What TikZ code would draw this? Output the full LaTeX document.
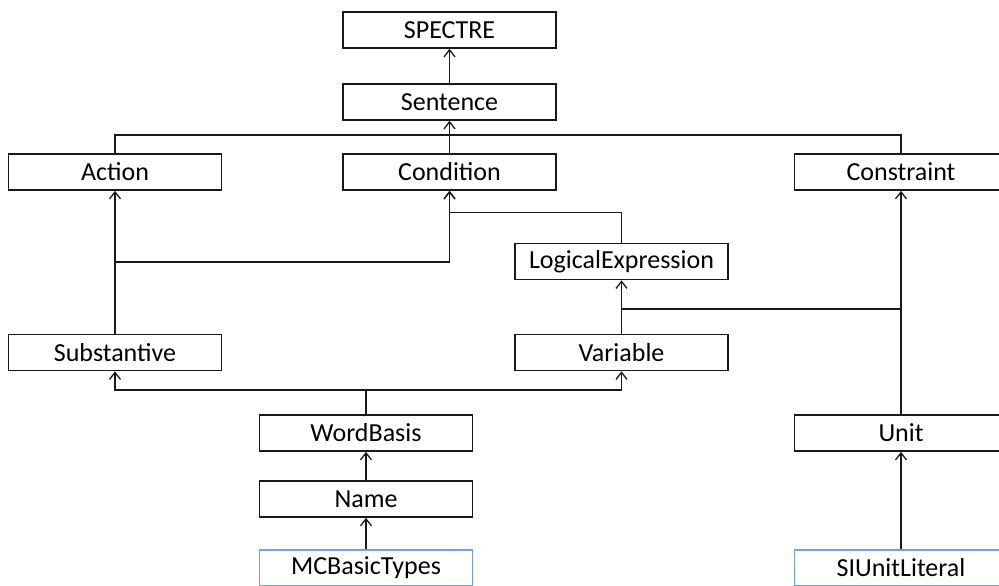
\documentclass[tikz,border=0pt]{standalone}
\usepackage{fontspec}
\setmainfont{Carlito}
\usetikzlibrary{arrows.meta}
\definecolor{boxblue}{RGB}{110,165,222}
\begin{document}
\begin{tikzpicture}[x=1pt,y=-1pt,
  cls/.style={draw=black!90, line width=1.7pt, fill=white, minimum width=213pt,
    minimum height=36pt, inner sep=0pt, font=\fontsize{26}{30}\selectfont},
  lit/.style={cls, draw=boxblue},
  link/.style={line width=1.5pt, draw=black!90},
  arr/.style={link, -{Straight Barb[length=7pt,width=11pt,line width=1.3pt]}}]
\useasboundingbox (0,0) rectangle (999,586);

% class boxes
\node[cls] (spectre)     at (449.5,30)  {SPECTRE};
\node[cls] (sentence)    at (449.5,102) {Sentence};
\node[cls] (action)      at (115,172)   {Action};
\node[cls] (condition)   at (449.5,172) {Condition};
\node[cls] (constraint)  at (901,172)   {Constraint};
\node[cls] (logical)     at (621.5,261.5) {LogicalExpression};
\node[cls] (substantive) at (115,352.5) {Substantive};
\node[cls] (variable)    at (621.5,352.5) {Variable};
\node[cls] (wordbasis)   at (366,433)   {WordBasis};
\node[cls] (name)        at (366,499)   {Name};
\node[lit] (mcbasic)     at (366,568)   {MCBasicTypes};
\node[cls] (unit)        at (901,433)   {Unit};
\node[lit] (siunit)      at (901,568)   {SIUnitLiteral};

% junction points of the shared lines
\coordinate (topbus) at (449.5,135);
\coordinate (subj)   at (115,262);
\coordinate (varj)   at (621.5,309);
\coordinate (wbj)    at (366,390);

% Sentence level
\draw[arr] (sentence.north) -- (spectre.south);
\draw[link] (action.north) |- (topbus) -| (constraint.north);
\draw[arr] (condition.north) -- (sentence.south);

% Condition / LogicalExpression
\draw[arr] (logical.north) -- ++(0,-30) -| (condition.south);

% Substantive
\draw[arr] (substantive.north) -- (action.south);
\draw[arr] (subj) -| (condition.south);

% Variable / Unit
\draw[arr] (variable.north) -- (logical.south);
\draw[link] (varj) -- (varj -| unit.north);
\draw[arr] (unit.north) -- (constraint.south);

% WordBasis
\draw[link] (wordbasis.north) -- (wbj);
\draw[arr] (wbj) -| (substantive.south);
\draw[arr] (wbj) -| (variable.south);
\draw[arr] (name.north) -- (wordbasis.south);
\draw[arr] (mcbasic.north) -- (name.south);
\draw[arr] (siunit.north) -- (unit.south);
\end{tikzpicture}
\end{document}
